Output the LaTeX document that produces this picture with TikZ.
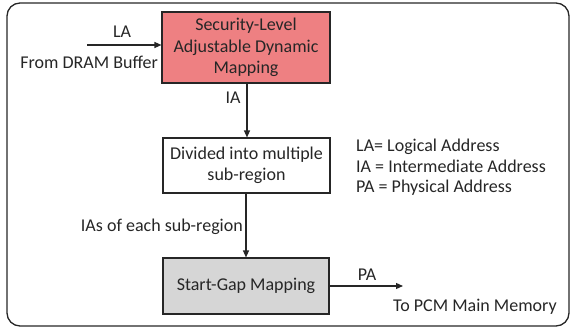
\documentclass[tikz,border=0pt]{standalone}
\usepackage{fontspec}
\setmainfont{Carlito}
\usetikzlibrary{arrows.meta}
\definecolor{inkc}{RGB}{38,38,38}
\definecolor{redfill}{RGB}{238,128,130}
\definecolor{grayfill}{RGB}{214,214,214}
\tikzset{
  every node/.style={text=inkc, font=\fontsize{18}{21.5}\selectfont},
  blockbox/.style={draw=inkc, line width=1.1pt, align=center, inner sep=0pt},
  flow/.style={draw=inkc, line width=1.2pt, -{Triangle[length=7pt,width=6pt]}},
  plain/.style={inner sep=0pt, anchor=base},
}
\begin{document}
\begin{tikzpicture}[x=1pt, y=-1pt]
  \useasboundingbox (0,0) rectangle (571,329);
  % frame around the whole flow
  \draw[inkc, line width=1.3pt, rounded corners=13pt] (7,3) rectangle (569,326);

  % processing blocks
  \node[blockbox, fill=redfill, minimum width=168pt, minimum height=71pt] (sld) at (246,47.5)
    {Security-Level\\Adjustable Dynamic\\Mapping};
  \node[blockbox, fill=white, minimum width=167pt, minimum height=55pt] (div) at (246.5,165.5)
    {Divided into multiple\\sub-region};
  \node[blockbox, fill=grayfill, minimum width=166pt, minimum height=56pt] (sg) at (246,286)
    {Start-Gap Mapping};

  % free ends of the input and output arrows
  \coordinate (src) at (87,45);
  \coordinate (dst) at (403,286);

  % connectors
  \draw[flow] (src) -- (src -| sld.west);
  \draw[flow] (sld.south -| 247,0) -- (div.north -| 247,0);
  \draw[flow] (div.south -| 246,0) -- (sg.north -| 246,0);
  \draw[flow] (sg.east |- dst) -- (dst);

  % connector labels
  \node[plain] (la) at (122,38) {LA};
  \node[plain, anchor=base east] (from) at (158,69) {From DRAM Buffer};
  \node[plain] (ia) at (233,103) {IA};
  \node[plain, anchor=base east] (ias) at (243,231) {IAs of each sub-region};
  \node[plain] (pa) at (367,280) {PA};
  \node[plain, anchor=base west] (to) at (393,311) {To PCM Main Memory};

  % legend
  \node[plain, anchor=base west] (lgla) at (356,151) {LA= Logical Address};
  \node[plain, anchor=base west] (lgia) at (356,172) {IA = Intermediate Address};
  \node[plain, anchor=base west] (lgpa) at (356,193) {PA = Physical Address};
\end{tikzpicture}
\end{document}
